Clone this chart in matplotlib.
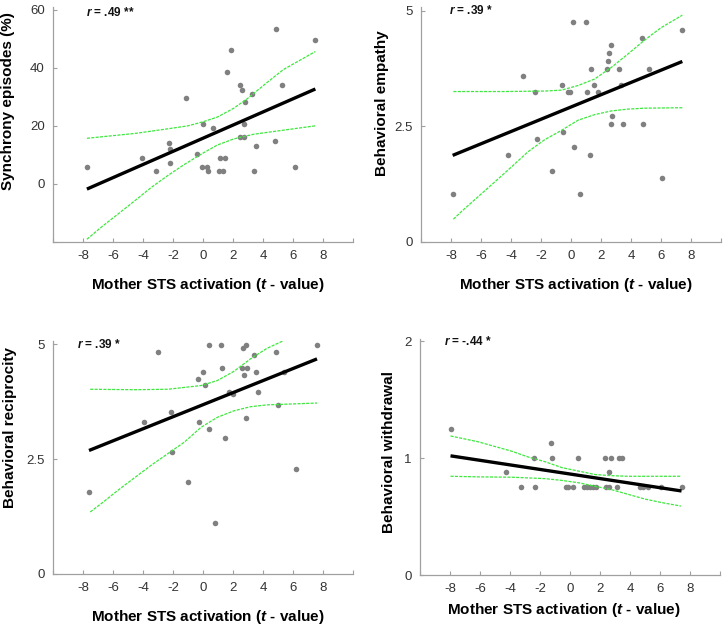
import numpy as np
import matplotlib.pyplot as plt

plt.rcParams['font.family'] = ['Liberation Sans', 'DejaVu Sans']
plt.rcParams['mathtext.fontset'] = 'custom'
plt.rcParams['mathtext.rm'] = 'Liberation Sans:bold'
plt.rcParams['mathtext.it'] = 'Liberation Sans:italic:bold'
plt.rcParams['mathtext.bf'] = 'Liberation Sans:bold'

# ---- panel A: synchrony episodes
sync_x = [-7.74, -4.04, -3.12, -2.28, -2.17, -2.17, -1.15, -0.41, -0.10, -0.03, 0.25,
          0.32, 0.67, 1.07, 1.13, 1.36, 1.44, 1.62, 1.88, 2.45, 2.49, 2.58, 2.72,
          2.72, 2.83, 3.29, 3.42, 3.53, 4.77, 4.88, 5.25, 6.13, 7.49]
sync_y = [5.9, 8.9, 4.3, 14.0, 11.9, 7.3, 29.6, 10.3, 5.9, 20.8, 5.9,
          4.3, 19.1, 4.3, 8.9, 4.3, 8.9, 38.5, 46.0, 16.2, 34.1, 32.5, 16.2,
          20.8, 28.1, 31.1, 4.3, 13.2, 14.7, 53.4, 34.1, 5.9, 49.7]
sync_fit = [2.265, 15.73]  # slope, intercept
sync_up_x = [-7.74, -4.5, -2.3, -1.0, 0, 0.95, 2.06, 2.94, 4.26, 5.36, 7.49]
sync_up_y = [15.7, 17.4, 19.0, 20.0, 21.4, 23.0, 26.1, 29.3, 34.9, 39.4, 45.6]
sync_lo_x = [-7.74, -6.75, -5.64, -4.54, -3.44, -2.34, -1.24, 0, 0.96, 2.06, 3.38, 5.36, 7.49]
sync_lo_y = [-19.1, -14.8, -10.3, -5.8, -1.2, 2.9, 6.7, 10.6, 13.4, 15.5, 17.1, 18.5, 20.0]

# ---- panel B: behavioral empathy
emp_x = [-7.89, -4.17, -3.21, -2.37, -2.26, -1.24, -0.58, -0.53, -0.22, -0.07, 0.16,
         0.22, 0.60, 0.98, 1.06, 1.26, 1.35, 1.55, 1.80, 2.42, 2.46, 2.50, 2.64,
         2.64, 2.73, 3.19, 3.32, 3.46, 4.70, 4.81, 5.19, 6.09, 7.42]
emp_y = [1.03, 1.87, 3.58, 3.24, 2.22, 1.54, 3.40, 2.38, 3.24, 3.24, 4.76,
         2.05, 1.03, 4.76, 3.24, 1.87, 3.74, 3.40, 3.24, 3.74, 3.91, 4.08, 4.26,
         2.55, 2.73, 3.74, 3.40, 2.55, 4.41, 2.55, 3.74, 1.37, 4.59]
emp_fit = [0.1326, 2.916]
emp_up_x = [-7.84, -4.5, -1.75, -0.64, 0.47, 1.57, 2.68, 3.79, 4.90, 6.0, 7.42]
emp_up_y = [3.25, 3.25, 3.26, 3.28, 3.38, 3.52, 3.77, 4.06, 4.36, 4.63, 4.90]
emp_lo_x = [-7.84, -7.29, -6.18, -5.07, -3.97, -2.86, -1.75, -0.64, 0.47, 1.57, 2.68, 3.79, 4.9, 7.42]
emp_lo_y = [0.49, 0.66, 0.98, 1.30, 1.62, 1.95, 2.21, 2.41, 2.63, 2.75, 2.83, 2.87, 2.89, 2.90]

# ---- panel C: behavioral reciprocity
rec_x = [-7.60, -3.91, -2.98, -2.15, -2.04, -1.03, -0.36, -0.30, -0.01, 0.10, 0.39,
         0.43, 0.80, 1.18, 1.29, 1.48, 1.75, 1.99, 2.59, 2.65, 2.70, 2.87, 2.94,
         2.85, 3.42, 3.55, 3.66, 4.87, 4.98, 5.37, 6.23, 7.60]
rec_y = [1.79, 3.31, 4.84, 3.53, 2.65, 2.00, 4.25, 3.31, 4.40, 4.12, 4.99,
         3.16, 1.12, 4.99, 4.48, 2.95, 3.97, 3.91, 4.48, 4.91, 4.34, 4.99, 4.48,
         3.39, 4.76, 4.40, 3.97, 4.84, 3.67, 4.40, 2.29, 4.99]
rec_fit = [0.1311, 3.684]
rec_up_x = [-7.52, -4.54, -2.34, -0.14, 0.96, 2.06, 3.16, 4.26, 5.25, 6.3, 7.6]
rec_up_y = [4.02, 4.01, 4.02, 4.10, 4.21, 4.41, 4.68, 4.91, 5.06, 5.3, 5.64]
rec_lo_x = [-7.52, -6.75, -5.64, -4.54, -3.44, -2.34, -1.24, -0.14, 0.96, 2.06, 3.16, 4.26, 7.6]
rec_lo_y = [1.35, 1.54, 1.83, 2.10, 2.37, 2.62, 2.87, 3.19, 3.41, 3.55, 3.64, 3.68, 3.72]

# ---- panel D: behavioral withdrawal
wd_x = [-7.96, -4.24, -3.27, -2.42, -2.31, -1.29, -1.18, -0.27, -0.11, 0.18, 0.56,
        0.91, 1.13, 1.33, 1.51, 1.76, 2.36, 2.42, 2.58, 2.60, 2.71, 3.16, 3.29,
        3.44, 4.67, 4.84, 5.18, 6.04, 7.44]
wd_y = [1.25, 0.88, 0.75, 1.00, 0.75, 1.13, 1.00, 0.75, 0.75, 0.75, 1.00,
        0.75, 0.75, 0.75, 0.75, 0.75, 1.00, 0.75, 0.75, 0.88, 1.00, 0.75, 1.00,
        1.00, 0.75, 0.75, 0.75, 0.75, 0.75]
wd_fit = [-0.01953, 0.8645]
wd_up_x = [-7.96, -6.11, -5.0, -3.89, -2.78, -1.67, -0.56, 0.56, 1.67, 2.78, 3.89, 7.4]
wd_up_y = [1.19, 1.14, 1.10, 1.06, 1.01, 0.97, 0.92, 0.89, 0.86, 0.85, 0.845, 0.845]
wd_lo_x = [-7.96, -6.11, -3.89, -1.67, -0.56, 0.56, 1.67, 2.78, 3.89, 5.0, 6.11, 7.4]
wd_lo_y = [0.845, 0.84, 0.837, 0.825, 0.81, 0.79, 0.76, 0.73, 0.69, 0.65, 0.62, 0.59]

xticks = [-10, -8, -6, -4, -2, 0, 2, 4, 6, 8, 10]
xticklabels = ['', '-8', '-6', '-4', '-2', '0', '2', '4', '6', '8', '']

panels = [
    dict(rect=[0.0732, 0.613, 0.4144, 0.376], x=sync_x, y=sync_y, fit=sync_fit,
         up=(sync_up_x, sync_up_y), lo=(sync_lo_x, sync_lo_y),
         ylim=(-20, 61), yticks=[-20, 0, 20, 40, 60], yticklabels=['', '0', '20', '40', '60'],
         ylabel='Synchrony episodes (%)', ylab_xy=(-0.127, 0.60), xlab_xy=(0.517, -0.145),
         r_txt=r'$\it{r}$ = .49 **', r_xy=(0.11, 0.975)),
    dict(rect=[0.5815, 0.613, 0.4144, 0.376], x=emp_x, y=emp_y, fit=emp_fit,
         up=(emp_up_x, emp_up_y), lo=(emp_lo_x, emp_lo_y),
         ylim=(0, 5.08), yticks=[0, 2.5, 5], yticklabels=['0', '2.5', '5'],
         ylabel='Behavioral empathy', ylab_xy=(-0.107, 0.59), xlab_xy=(0.517, -0.145),
         r_txt=r'$\it{r}$ = .39 *', r_xy=(0.093, 0.985)),
    dict(rect=[0.0732, 0.0816, 0.4144, 0.3728], x=rec_x, y=rec_y, fit=rec_fit,
         up=(rec_up_x, rec_up_y), lo=(rec_lo_x, rec_lo_y),
         ylim=(0, 5.07), yticks=[0, 2.5, 5], yticklabels=['0', '2.5', '5'],
         ylabel='Behavioral reciprocity', ylab_xy=(-0.12, 0.63), xlab_xy=(0.517, -0.146),
         r_txt=r'$\it{r}$ = .39 *', r_xy=(0.08, 0.985)),
    dict(rect=[0.580, 0.08, 0.4144, 0.3776], x=wd_x, y=wd_y, fit=wd_fit,
         up=(wd_up_x, wd_up_y), lo=(wd_lo_x, wd_lo_y),
         ylim=(0, 2.02), yticks=[0, 1, 2], yticklabels=['0', '1', '2'],
         ylabel='Behavioral withdrawal', ylab_xy=(-0.08, 0.52), xlab_xy=(0.48, -0.11),
         r_txt=r'$\it{r}$ = -.44 *', r_xy=(0.08, 0.988)),
]

fig = plt.figure(figsize=(7.24, 6.25), dpi=100)

for p in panels:
    ax = fig.add_axes(p['rect'])
    x = np.array(p['x'])
    ax.scatter(x, p['y'], s=16, color='#808080', zorder=3, linewidths=0)
    fx = np.array([x.min(), x.max()])
    ax.plot(fx, p['fit'][0] * fx + p['fit'][1], color='black', lw=2.4, zorder=4,
            solid_capstyle='butt')
    for bx, by in (p['up'], p['lo']):
        ax.plot(bx, by, color='#3ee83e', lw=0.9, linestyle=(0, (2.5, 1)), zorder=5)

    ax.set_xlim(-10, 10)
    ax.set_ylim(*p['ylim'])
    ax.set_xticks(xticks)
    ax.set_xticklabels(xticklabels)
    ax.set_yticks(p['yticks'])
    ax.set_yticklabels(p['yticklabels'])
    for s in ('top', 'right'):
        ax.spines[s].set_visible(False)
    for s in ('left', 'bottom'):
        ax.spines[s].set_color('#a0a0a0')
        ax.spines[s].set_linewidth(0.9)
    ax.tick_params(direction='in', length=3, width=0.8, color='#a0a0a0',
                   labelcolor='#333333', labelsize=9.5, pad=6)

    ax.set_xlabel(r'Mother STS activation ($\it{t}$ - value)', fontsize=11,
                  fontweight='bold')
    ax.xaxis.set_label_coords(*p['xlab_xy'])
    ax.set_ylabel(p['ylabel'], fontsize=11, fontweight='bold')
    ax.yaxis.set_label_coords(*p['ylab_xy'])
    ax.text(p['r_xy'][0], p['r_xy'][1], p['r_txt'], transform=ax.transAxes,
            fontsize=8.5, fontweight='bold', va='center', ha='left', color='#111111')

fig.savefig('out.png', dpi=100)
